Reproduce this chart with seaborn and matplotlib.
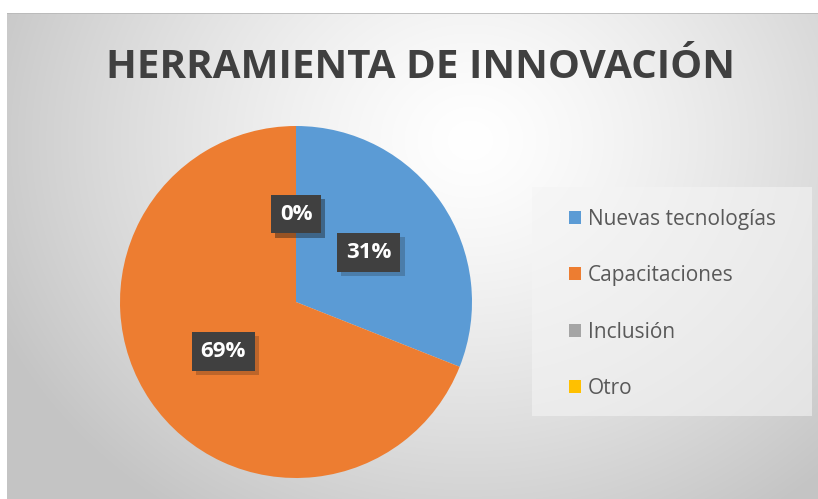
import numpy as np
import matplotlib
matplotlib.use('Agg')
import matplotlib.pyplot as plt
import matplotlib.patches as mpatches
import matplotlib.patheffects as pe
import seaborn as sns

# datos del gráfico
categorias = ['Nuevas tecnologías', 'Capacitaciones', 'Inclusión', 'Otro']
porcentajes = [31, 69, 0, 0]
colores = ['#5B9BD5', '#ED7D31', '#A5A5A5', '#FFC000']
titulo = 'HERRAMIENTA DE INNOVACIÓN'

sns.set_theme(style='white')
plt.rcParams['font.family'] = ['Open Sans', 'DejaVu Sans']

W, H = 818, 499
fig = plt.figure(figsize=(W / 100, H / 100), dpi=100)
fig.patch.set_facecolor('white')

def px(x0, y0, x1, y1):
    # pixel box (origen arriba-izquierda) -> fracción de figura
    return [x0 / W, 1 - y1 / H, (x1 - x0) / W, (y1 - y0) / H]

# fondo con degradado radial
bg = fig.add_axes(px(7, 13, W, H))
bg.set_axis_off()
yy, xx = np.mgrid[13:H, 7:W]
dist = np.sqrt((xx - 470) ** 2 + ((yy - 140) * 1.15) ** 2)
t = np.clip(dist / 520, 0, 1) ** 1.3
g = 1.0 - t * (1.0 - 0.77)
bg.imshow(np.dstack([g, g, g]), aspect='auto', extent=(0, 1, 0, 1))
bg.plot([0, 1], [1, 1], color='#b8b8b8', lw=1.2, transform=bg.transAxes)

# título
fig.text(420 / W, 1 - 78 / H, titulo, ha='center', va='baseline',
         fontsize=29, fontweight='bold', color='#404040')

# pastel
ax = fig.add_axes(px(120, 126, 472, 478))
ax.set_axis_off()
wedges, textos, autotextos = ax.pie(
    porcentajes, colors=colores, startangle=90, counterclock=False,
    radius=1, autopct='%.0f%%', pctdistance=0.5,
    wedgeprops=dict(linewidth=0))
ax.set_xlim(-1, 1)
ax.set_ylim(-1, 1)

for txt in autotextos:
    txt.set_color('white')
    txt.set_fontsize(16)
    txt.set_fontweight('bold')
    txt.set_bbox(dict(boxstyle='square,pad=0.4', fc='#404040', lw=0))
    txt.get_bbox_patch().set_path_effects(
        [pe.SimplePatchShadow(offset=(3, -3), alpha=0.22), pe.Normal()])

# leyenda
fig.patches.append(mpatches.Rectangle((532 / W, 1 - 416 / H), 280 / W, 229 / H,
                                      transform=fig.transFigure, fc='#f4f4f4',
                                      alpha=0.6, ec='none', zorder=0))
leg = fig.legend(wedges, categorias, loc='upper left',
                 bbox_to_anchor=(550 / W, 1 - 190 / H), frameon=False,
                 fontsize=15, labelcolor='#595959', handlelength=0.6,
                 handleheight=0.6, handletextpad=0.3, labelspacing=1.7)

fig.savefig('out.png', dpi=100)
